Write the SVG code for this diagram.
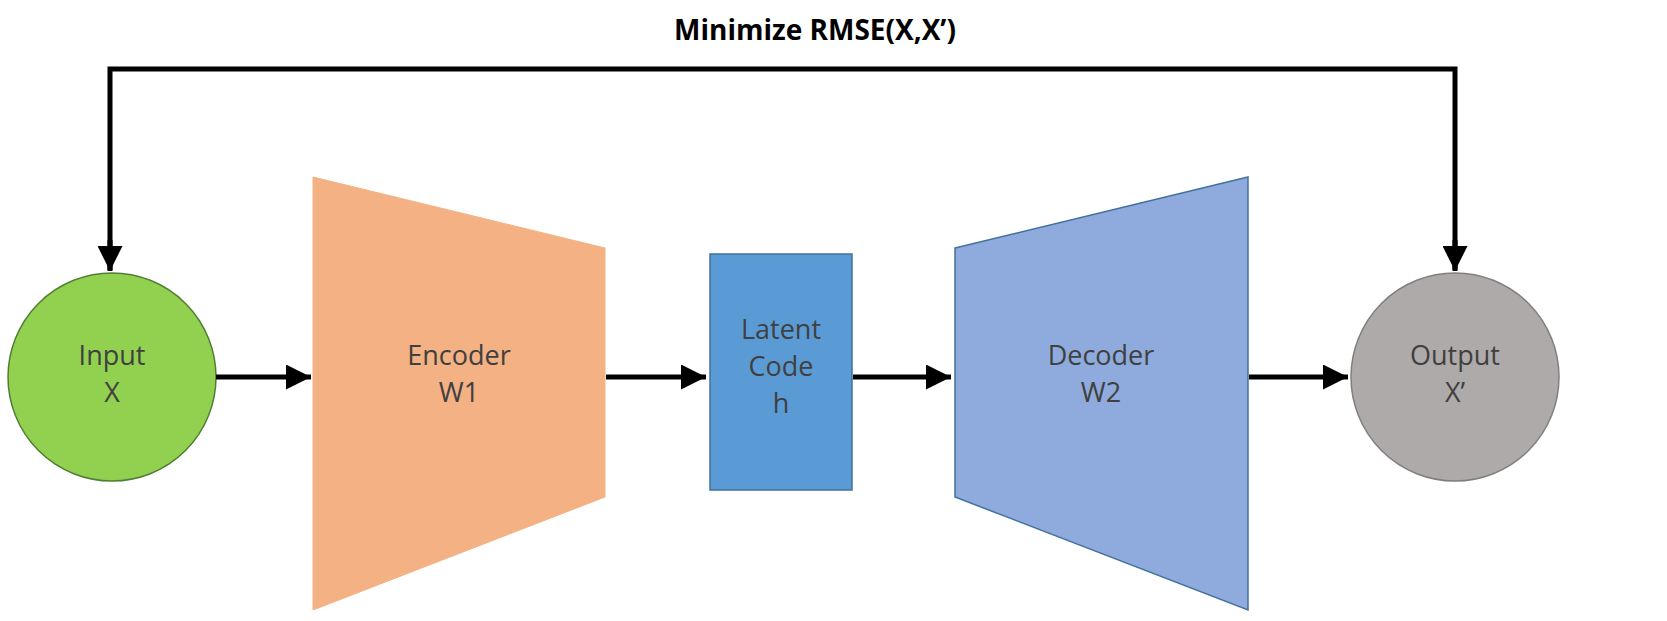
<svg xmlns="http://www.w3.org/2000/svg" width="1667" height="621" viewBox="0 0 1667 621">
<defs>
<marker id="ah" viewBox="0 0 10 10" refX="10" refY="5" markerWidth="5" markerHeight="5" orient="auto" markerUnits="strokeWidth"><path d="M0,0 L10,5 L0,10 z" fill="#000"/></marker>
<style>
.t{font-family:"Open Sans","Liberation Sans",sans-serif;font-size:27px;fill:#404040;text-anchor:middle}
.c{stroke:#000;stroke-width:5;fill:none;marker-end:url(#ah)}
.s{stroke:#41719c;stroke-width:1.5}
</style>
</defs>
<rect width="1667" height="621" fill="#fff"/>
<text x="815" y="40" style="font-family:'Open Sans','Liberation Sans',sans-serif;font-size:28px;font-weight:bold;fill:#000;text-anchor:middle">Minimize RMSE(X,X’)</text>
<g id="input"><circle cx="112" cy="377" r="104" fill="#92d050" stroke="#507e32" stroke-width="1.5"/><text class="t" x="112" y="365">Input</text><text class="t" x="112" y="402">X</text></g>
<g id="encoder"><polygon points="313,177 605,248 605,497 313,610" fill="#f4b183" stroke="#f4b183"/><text class="t" x="459" y="365">Encoder</text><text class="t" x="459" y="402">W1</text></g>
<g id="latent"><rect x="710" y="254" width="142" height="236" fill="#5b9bd5" class="s"/><text class="t" x="781" y="339">Latent</text><text class="t" x="781" y="376">Code</text><text class="t" x="781" y="413">h</text></g>
<g id="decoder"><polygon points="955,248 1248,177 1248,610 955,497" fill="#8faadc" class="s"/><text class="t" x="1101" y="365">Decoder</text><text class="t" x="1101" y="402">W2</text></g>
<g id="output"><circle cx="1455" cy="377" r="104" fill="#aeaaaa" stroke="#7f7f7f" stroke-width="1.5"/><text class="t" x="1455" y="365">Output</text><text class="t" x="1455" y="402">X’</text></g>
<g id="connectors">
<path class="c" d="M216,377 H311"/>
<path class="c" d="M606,377 H706"/>
<path class="c" d="M853,377 H951"/>
<path class="c" d="M1249,377 H1348"/>
<path class="c" d="M1455,270 V69 H110 V270" marker-end="none" style="marker-end:none"/>
<path class="c" d="M110,240 V271"/>
<path class="c" d="M1455,240 V271"/>
</g>
</svg>
